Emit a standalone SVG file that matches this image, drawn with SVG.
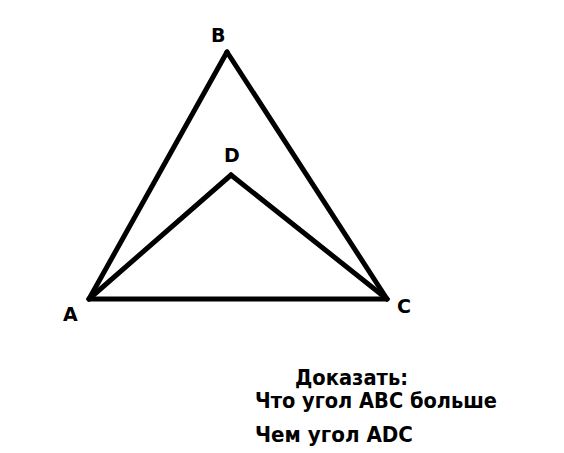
<svg xmlns="http://www.w3.org/2000/svg" width="564" height="453" viewBox="0 0 564 453">
<style>
.l{stroke:#000;stroke-width:5;stroke-linecap:round;fill:none}
.t{font-family:"DejaVu Sans","Liberation Sans",sans-serif;font-weight:bold;fill:#000}
.v{font-size:19px}
.n{font-size:21px}
</style>
<rect width="564" height="453" fill="#fff"/>
<g id="connectors">
<line class="l" x1="89" y1="299" x2="227" y2="52"/>
<line class="l" x1="227" y1="52" x2="387" y2="299"/>
<line class="l" x1="89" y1="299" x2="387" y2="299"/>
<line class="l" x1="89" y1="299" x2="231" y2="175"/>
<line class="l" x1="231" y1="175" x2="387" y2="299"/>
</g>
<g id="A"><text class="t v" x="63" y="321">A</text></g>
<g id="B"><text class="t v" x="211" y="42">B</text></g>
<g id="C"><text class="t v" x="397" y="313">C</text></g>
<g id="D"><text class="t v" x="224" y="162">D</text></g>
<g id="note">
<text class="t n" x="295" y="385" textLength="113" lengthAdjust="spacingAndGlyphs">Доказать:</text>
<text class="t n" x="255" y="408" textLength="242" lengthAdjust="spacingAndGlyphs">Что угол ABC больше</text>
<text class="t n" x="255" y="442" textLength="158" lengthAdjust="spacingAndGlyphs">Чем угол ADC</text>
</g>
</svg>
